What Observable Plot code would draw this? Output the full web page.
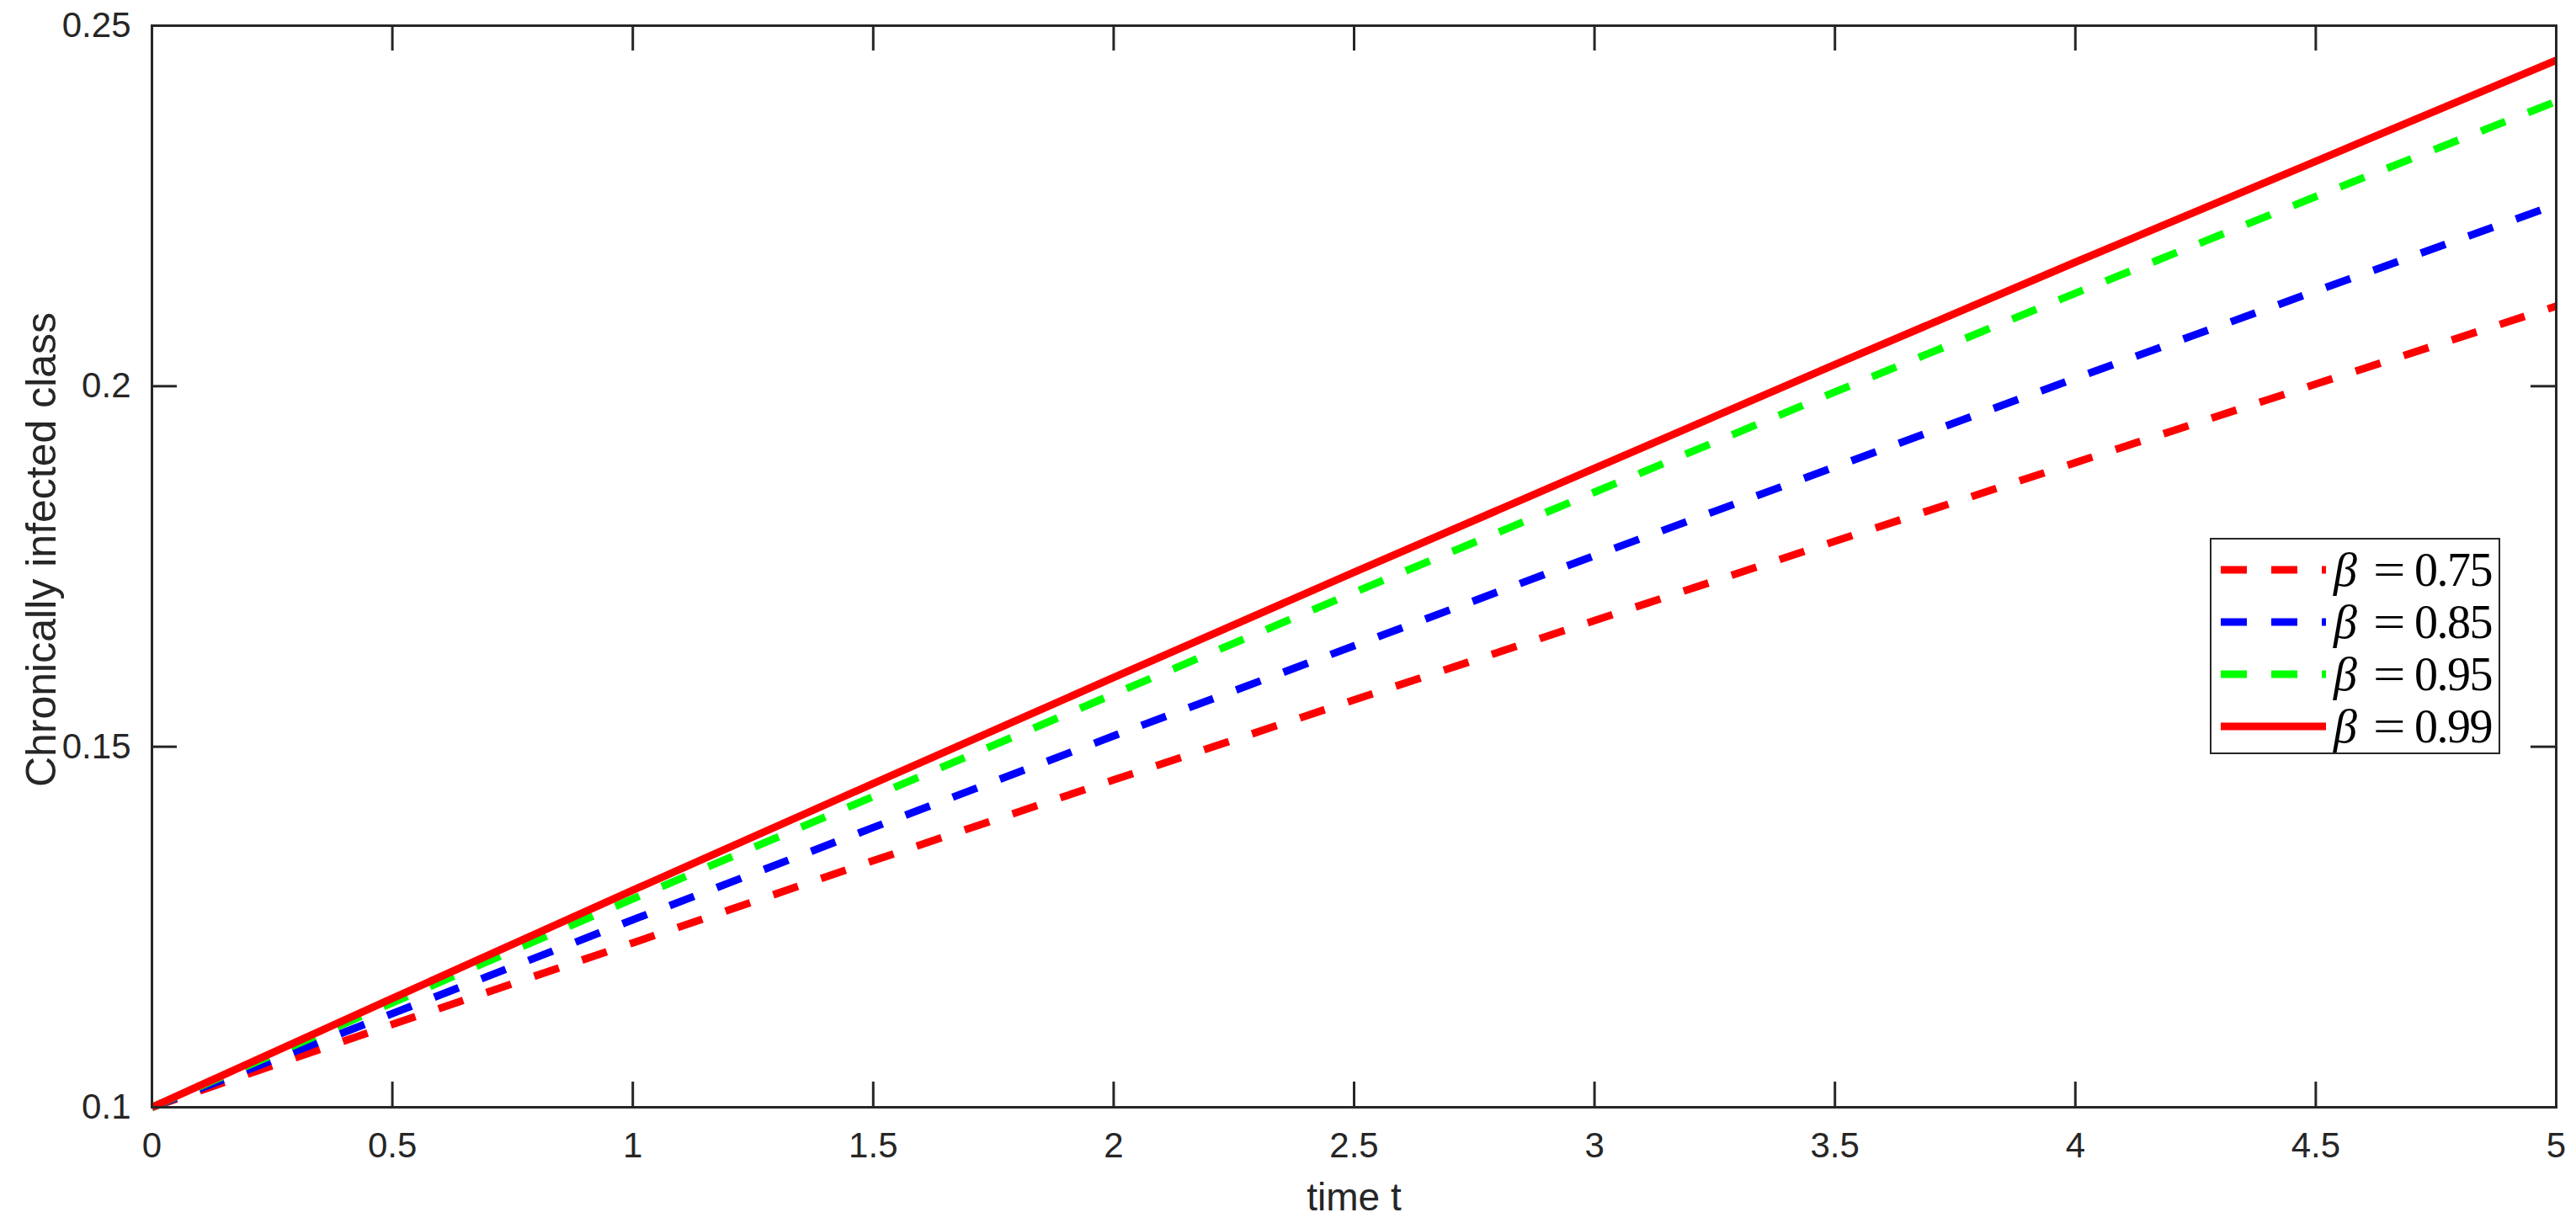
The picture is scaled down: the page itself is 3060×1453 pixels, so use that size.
<!DOCTYPE html>
<html>
<head>
<meta charset="utf-8">
<script src="https://cdn.jsdelivr.net/npm/d3@7"></script>
<script src="https://cdn.jsdelivr.net/npm/@observablehq/plot@0.6"></script>
<style>
  html, body { margin: 0; padding: 0; background: #fff; }
  #wrap { position: relative; width: 3060px; height: 1453px; }
  #legend {
    position: absolute; left: 2625px; top: 639px; width: 341px; height: 253px;
    border: 2.5px solid #262626; background: #fff; box-sizing: content-box;
  }
  .row { position: absolute; left: 0; height: 62px; width: 100%; }
  .row svg { position: absolute; left: 11px; top: 0; }
  .row span {
    position: absolute; top: 0; line-height: 62px; height: 62px;
    font-family: "Liberation Serif", "DejaVu Serif", serif; font-size: 56px; color: #000; white-space: nowrap;
  }
  .row span.b { left: 145px; font-style: italic; }
  .row span.eq { left: 192px; transform: scaleX(1.22); transform-origin: left center; }
  .row span.num { left: 241px; letter-spacing: -1.5px; }
</style>
</head>
<body>
<div id="wrap"></div>
<script>
// ---- data ----
const t = [0, 0.5, 1, 1.5, 2, 2.5, 3, 3.5, 4, 4.5, 5];
const beta075 = [0.1, 0.1115, 0.1228, 0.1342, 0.1454, 0.1565, 0.1675, 0.1785, 0.1894, 0.2003, 0.2111];
const beta085 = [0.1, 0.1130, 0.1260, 0.1388, 0.1515, 0.1640, 0.1765, 0.1888, 0.2011, 0.2132, 0.2252];
const beta095 = [0.1, 0.1145, 0.1289, 0.1431, 0.1573, 0.1714, 0.1853, 0.1992, 0.2129, 0.2263, 0.2395];
const beta099 = [0.1, 0.1151, 0.1301, 0.1449, 0.1596, 0.1742, 0.1886, 0.2030, 0.2172, 0.2312, 0.2452];
const seriesNames = ["β = 0.75", "β = 0.85", "β = 0.95", "β = 0.99"];
const seriesBeta = ["0.75", "0.85", "0.95", "0.99"];
const seriesColors = ["#ff0000", "#0000ff", "#00ff00", "#ff0000"];
const seriesDash = ["31,29", "31,29", "31,29", null];
const xTicks = [0, 0.5, 1, 1.5, 2, 2.5, 3, 3.5, 4, 4.5, 5];
const yTicks = [0.1, 0.15, 0.2, 0.25];
const xLabel = "time t";
const yLabel = "Chronically infected class";

const seriesValues = [beta075, beta085, beta095, beta099];
const data = seriesValues.map((vals) => t.map((x, i) => ({t: x, v: vals[i]})));

const W = 3060, H = 1453, mL = 180, mR = 24, mT = 30, mB = 138;
const innerW = W - mL - mR, innerH = H - mT - mB;
const tick = 30;
const ink = "#262626";

const chart = Plot.plot({
  width: W, height: H,
  marginLeft: mL, marginRight: mR, marginTop: mT, marginBottom: mB,
  x: {domain: [0, 5]},
  y: {domain: [0.1, 0.25]},
  style: {fontFamily: "'Liberation Sans', Arial, sans-serif", background: "#fff", color: ink},
  marks: [
    ...data.map((d, i) => Plot.line(d, {
      x: "t", y: "v", stroke: seriesColors[i], strokeWidth: 9,
      strokeDasharray: seriesDash[i] ?? undefined, strokeLinecap: "butt", strokeLinejoin: "miter"
    })),
    Plot.frame({stroke: ink, strokeWidth: 3}),
    Plot.ruleX(xTicks, {x: d => d, stroke: ink, strokeWidth: 3, insetTop: innerH - tick}),
    Plot.ruleX(xTicks, {x: d => d, stroke: ink, strokeWidth: 3, insetBottom: innerH - tick}),
    Plot.ruleY(yTicks, {y: d => d, stroke: ink, strokeWidth: 3, insetRight: innerW - tick}),
    Plot.ruleY(yTicks, {y: d => d, stroke: ink, strokeWidth: 3, insetLeft: innerW - tick}),
    Plot.axisX(xTicks, {tickSize: 0, tickPadding: 30, fontSize: 42, label: null, tickFormat: d => String(d)}),
    Plot.axisY(yTicks, {tickSize: 0, tickPadding: 25, fontSize: 42, label: null, tickFormat: d => String(d)}),
    Plot.text([xLabel], {frameAnchor: "bottom", dy: 122, fontSize: 46, lineAnchor: "bottom", fill: ink}),
    Plot.text([yLabel], {frameAnchor: "left", dx: -131, dy: -20, rotate: -90, textAnchor: "middle", fontSize: 50, fill: ink})
  ]
});
const wrap = document.getElementById("wrap");
wrap.appendChild(chart);

// legend
const legend = document.createElement("div");
legend.id = "legend";
seriesNames.forEach((name, i) => {
  const row = document.createElement("div");
  row.className = "row";
  row.style.top = (5 + i * 62) + "px";
  row.title = name;
  const svg = d3.create("svg").attr("width", 126).attr("height", 62);
  const ln = svg.append("line").attr("x1", 0).attr("x2", 125).attr("y1", 31).attr("y2", 31)
    .attr("stroke", seriesColors[i]).attr("stroke-width", 9);
  if (seriesDash[i]) ln.attr("stroke-dasharray", seriesDash[i]);
  row.appendChild(svg.node());
  const b = document.createElement("span"); b.className = "b"; b.textContent = "β";
  const eq = document.createElement("span"); eq.className = "eq"; eq.textContent = "=";
  const num = document.createElement("span"); num.className = "num"; num.textContent = seriesBeta[i];
  row.appendChild(b); row.appendChild(eq); row.appendChild(num);
  legend.appendChild(row);
});
wrap.appendChild(legend);
</script>
</body>
</html>
